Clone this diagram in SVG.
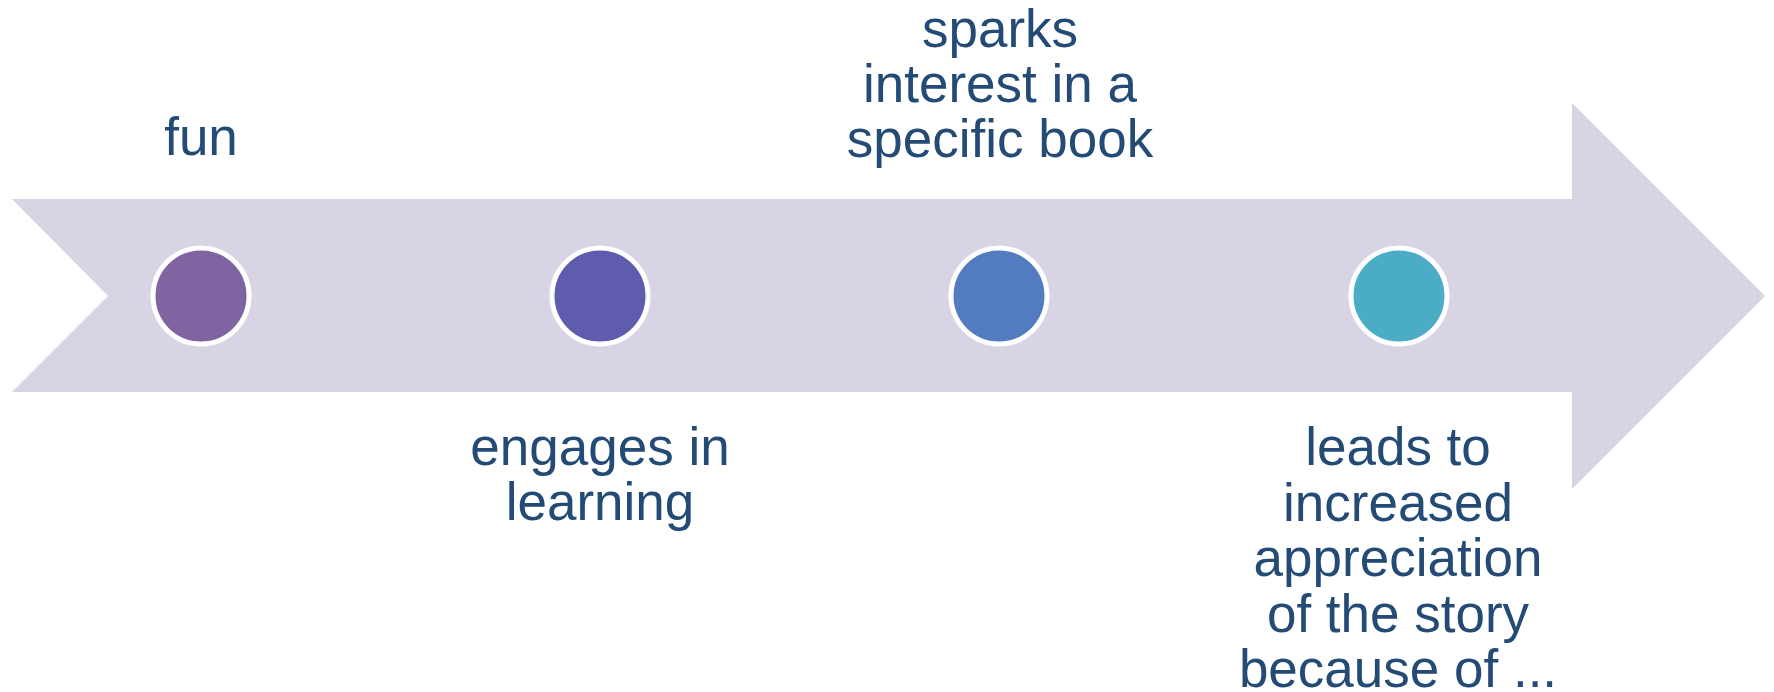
<svg xmlns="http://www.w3.org/2000/svg" width="1774" height="692" viewBox="0 0 1774 692">
  <style>
    .lbl { font-family: "Liberation Sans", Arial, sans-serif; font-size: 53px; fill: #234B75; text-anchor: middle; }
    .dot { stroke: #FFFFFF; stroke-width: 5; }
  </style>
  <rect width="1774" height="692" fill="#FFFFFF"/>

  <!-- timeline arrow -->
  <g id="arrow">
    <polygon points="12,199 1572,199 1572,103 1765,296 1572,489 1572,392 12,392 108,296" fill="#D8D4E3"/>
  </g>

  <g id="step1">
    <circle class="dot" cx="201" cy="296" r="48" fill="#8064A2"/>
    <text class="lbl" x="201" y="155">fun</text>
  </g>

  <g id="step2">
    <circle class="dot" cx="600" cy="296" r="48" fill="#5F5BAD"/>
    <text class="lbl" x="600" y="465">engages in</text>
    <text class="lbl" x="600" y="520">learning</text>
  </g>

  <g id="step3">
    <circle class="dot" cx="999" cy="296" r="48" fill="#527CBF"/>
    <text class="lbl" x="1000" y="47">sparks</text>
    <text class="lbl" x="1000" y="102">interest in a</text>
    <text class="lbl" x="1000" y="157">specific book</text>
  </g>

  <g id="step4">
    <circle class="dot" cx="1399" cy="296" r="48" fill="#4BACC6"/>
    <text class="lbl" x="1398" y="465">leads to</text>
    <text class="lbl" x="1398" y="520.5">increased</text>
    <text class="lbl" x="1398" y="576">appreciation</text>
    <text class="lbl" x="1398" y="631.5">of the story</text>
    <text class="lbl" x="1398" y="687">because of ...</text>
  </g>

  <g id="connectors"></g>
</svg>
